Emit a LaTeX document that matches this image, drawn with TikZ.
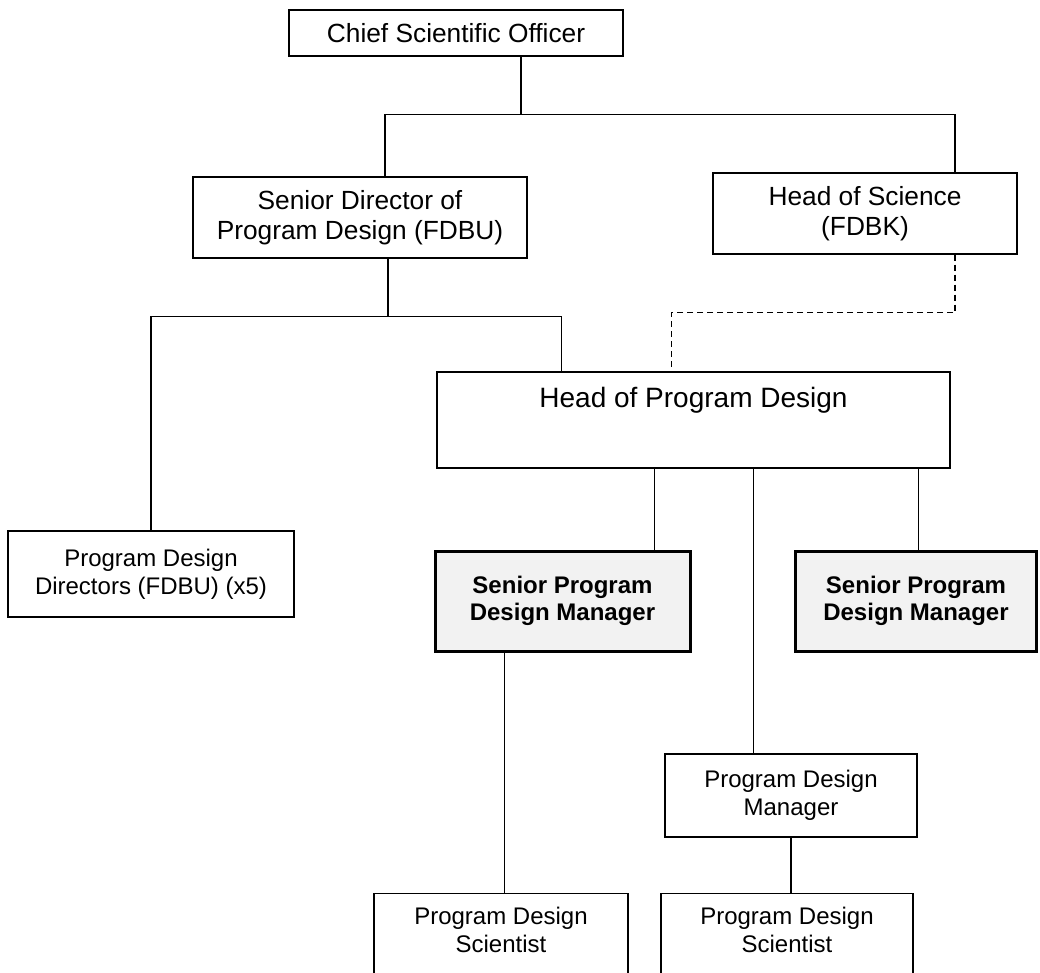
\documentclass[tikz,border=0pt]{standalone}
\usepackage{fontspec}
\setmainfont{Liberation Sans}
\usetikzlibrary{calc}
\definecolor{BoxGray}{HTML}{F2F2F2}
\tikzset{
  % Base box
  OB/.style={rectangle,draw,line width=1.2pt,inner sep=0pt,align=center,
             font=\fontsize{24}{27.6}\selectfont},
  % Upper level boxes
  OU/.style={OB,font=\fontsize{26.3}{30.5}\selectfont},
  % Highlighted boxes
  OH/.style={OB,line width=3pt,fill=BoxGray,
             font=\fontsize{24}{27.6}\selectfont\bfseries},
  % Label text
  OT/.style={align=center,inner sep=0pt,font=\fontsize{24}{27.6}\selectfont},
  % Connectors
  ln/.style={line width=1.5pt},
  dl/.style={line width=1.5pt,dash pattern=on 6pt off 4pt}
}
\begin{document}
\begin{tikzpicture}[x=1pt,y=1pt]
  \useasboundingbox (0,0) rectangle (1040,-972);
  \clip (0,0) rectangle (1040,-972);
  \node[OU,minimum width=334pt,minimum height=46pt] (cso) at (456,-33) {Chief Scientific Officer};
  \node[OU,minimum width=334pt,minimum height=81pt] (sdpd) at (360,-217.5) {Senior Director of\\Program Design (FDBU)};
  \node[OU,minimum width=304pt,minimum height=81pt] (hos) at (865,-213.5) {Head of Science\\(FDBK)};
  \node[OB,font=\fontsize{28}{32}\selectfont,minimum width=513pt,
        text height=35pt,text depth=61pt,anchor=base] (hopd) at (693.5,-407) {Head of Program Design};
  \node[OB,minimum width=286pt,minimum height=86pt] (pdd) at (151,-574) {Program Design\\Directors (FDBU) (x5)};
  \node[OH,minimum width=255pt,minimum height=100pt] (spdmL) at (562.5,-601) {Senior Program\\Design Manager};
  \node[OH,minimum width=241pt,minimum height=100pt] (spdmR) at (916,-601) {Senior Program\\Design Manager};
  \node[OB,minimum width=252pt,minimum height=83pt] (pdm) at (791,-795.5) {Program Design\\Manager};
  \node[OB,minimum width=254pt,minimum height=100pt,anchor=north,
        label={[OT,anchor=center,yshift=-37pt]north:Program Design\\Scientist}] (pdsL) at (501,-893) {};
  \node[OB,minimum width=252pt,minimum height=100pt,anchor=north,
        label={[OT,anchor=center,yshift=-37pt]north:Program Design\\Scientist}] (pdsR) at (787,-893) {};
  % Top level
  \draw[ln] ($(cso.south)+(65,0)$) -- ++(0,-58) coordinate (busT);
  \draw[ln] ($(sdpd.north)+(25,0)$) |- (busT) -| ($(hos.north)+(90,0)$);
  % Program design branch
  \draw[ln] ($(sdpd.south)+(28,0)$) -- ++(0,-58) coordinate (busM);
  \draw[ln] (pdd.north) |- (busM) -| ($(hopd.north)+(-132,0)$);
  \draw[dl] ($(hos.south)+(90,0)$) -- ++(0,-58) -| ($(hopd.north)+(-22,0)$);
  % Below head of program design
  \coordinate (dL) at ($(hopd.south)+(-39,0)$);
  \coordinate (dM) at ($(hopd.south)+(60,0)$);
  \coordinate (dR) at ($(hopd.south)+(225,0)$);
  \coordinate (dS) at ($(spdmL.south)+(-58,0)$);
  \draw[ln] (dL) -- (dL |- spdmL.north);
  \draw[ln] (dM) -- (dM |- pdm.north);
  \draw[ln] (dR) -- (dR |- spdmR.north);
  \draw[ln] (dS) -- (dS |- pdsL.north);
  \draw[ln] (pdm.south) -- (pdm.south |- pdsR.north);
\end{tikzpicture}
\end{document}
